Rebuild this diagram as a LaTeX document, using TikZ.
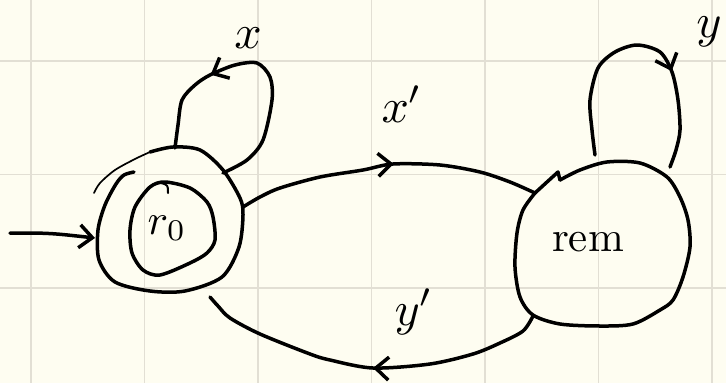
\documentclass[tikz,border=0pt]{standalone}
\usetikzlibrary{arrows.meta,decorations.markings}
\definecolor{paper}{HTML}{FEFDF1}
\definecolor{gridc}{HTML}{E2DFD4}
\tikzset{
  ink/.style={line width=3.5pt, line cap=round, line join=round, black},
  thinink/.style={line width=1.7pt, line cap=round, line join=round, black},
  gridline/.style={gridc, line width=1.5pt},
  barb/.style={-{Straight Barb[length=13pt,width=23pt]}},
  midarrow/.style={postaction={decorate}, decoration={markings,
      mark=at position #1 with {\arrow[line width=3.5pt]{Straight Barb[length=13pt,width=23pt]}}}},
  lbl/.style={inner sep=0pt, scale=4.8},
  statelbl/.style={inner sep=0pt, scale=4.3},
}
\begin{document}
\begin{tikzpicture}[x=1pt,y=-1pt]
\fill[paper] (0,0) rectangle (726,383);
\useasboundingbox (0,0) rectangle (726,383);
\foreach \gx in {31,144.5,258,371.5,485,598.5,712} \draw[gridline] (\gx,0) -- (\gx,383);
\foreach \gy in {61,174.5,288} \draw[gridline] (0,\gy) -- (726,\gy);

% state labels
\node[statelbl] (r0) at (167,228) {$r_0$};
\node[statelbl] (rem) at (588,242) {rem};

% attachment points
\coordinate (start) at (10,233);
\coordinate (r0W) at (95,238);
\coordinate (r0E) at (243,207);
\coordinate (r0S) at (210,297);
\coordinate (r0N) at (175,148);
\coordinate (r0NE) at (223,173);
\coordinate (remW) at (535,193);
\coordinate (remSW) at (533,316);
\coordinate (remN1) at (595,155);
\coordinate (remN2) at (670,167);

% r0: outer (accepting) ring
\draw[thinink] plot[smooth] coordinates {(94,193) (100,183) (115,170) (135,159) (150,152)};
\draw[ink] plot[smooth] coordinates {(150,152) (173,147) (200,150) (223,170) (240,198) (243,215) (239,247) (222,277) (185,291) (150,291) (115,282) (99,260) (98,230) (105,205) (116,184) (124,175) (134,172)};
% r0: inner ring
\draw[ink] plot[smooth cycle] coordinates {(165,182) (190,188) (207,202) (213,217) (215,240) (207,253) (190,263) (160,275) (143,270) (132,253) (130,230) (135,207) (150,187)};
\draw[ink, line width=2pt] (161,183) .. controls (168,185) .. (168,193);

% rem state
\draw[ink] plot[smooth] coordinates {(560,180) (580,170) (607,162) (640,163) (667,177) (680,197) (688,220) (690,247) (683,277) (673,300) (660,310) (633,324) (600,326) (560,324) (533,315) (520,297) (515,267) (517,233) (523,210) (535,193)};
\draw[ink] (remW) -- (547,182) -- (558,172) -- (560,180);

% initial arrow
\draw[ink, barb] (start) .. controls (50,233) .. (r0W);

% self-loop on r0 (x)
\draw[ink, midarrow=0.68] plot[smooth] coordinates {(r0NE) (247,160) (263,140) (272,100) (270,77) (257,63) (235,65) (210,75) (195,85) (182,100) (178,125) (r0N)};
% x' edge
\draw[ink, midarrow=0.52] plot[smooth] coordinates {(r0E) (260,197) (280,188) (320,177) (363,170) (393,164) (440,165) (480,172) (510,182) (remW)};
% y' edge
\draw[ink, midarrow=0.49] plot[smooth] coordinates {(remSW) (523,331) (500,343) (473,354) (430,364) (373,368) (330,360) (310,354) (260,334) (230,318) (218,306) (r0S)};
% self-loop on rem (y)
\draw[ink, midarrow=0.65] plot[smooth] coordinates {(remN1) (592,130) (590,100) (598,68) (615,52) (637,45) (660,52) (672,72) (678,100) (680,130) (676,150) (remN2)};

% edge labels
\node[lbl] (lx) at (248,38) {$x$};
\node[lbl] (lxp) at (402,104) {$x'$};
\node[lbl] (ly) at (709,32) {$y$};
\node[lbl] (lyp) at (414,312) {$y'$};
\end{tikzpicture}
\end{document}
